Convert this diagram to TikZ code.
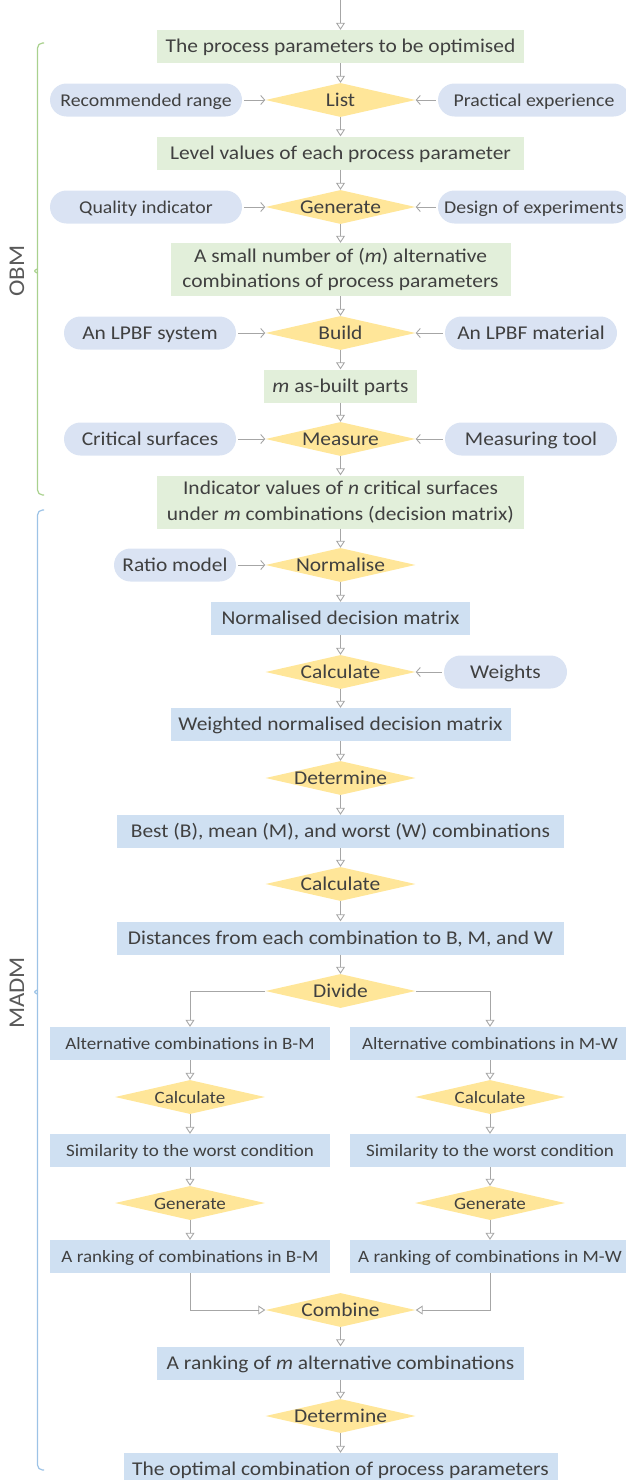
\documentclass[tikz,border=0pt]{standalone}
\usepackage{fontspec}
\setmainfont{Carlito}[FakeStretch=1.1]
\usetikzlibrary{shapes.geometric,arrows.meta}

\definecolor{txtgray}{HTML}{404040}
\definecolor{labelgray}{HTML}{595959}
\definecolor{linegray}{HTML}{A6A6A6}
\definecolor{obmfill}{HTML}{E2EFDA}
\definecolor{madmfill}{HTML}{CFE0F2}
\definecolor{infill}{HTML}{DAE3F3}
\definecolor{actfill}{HTML}{FFE699}
\definecolor{obmline}{HTML}{A9D18E}
\definecolor{madmline}{HTML}{9DC3E6}

\tikzset{
  base/.style={inner sep=0pt, text=txtgray, font=\fontsize{19.5}{25.5}\selectfont},
  greenbox/.style={base, rectangle, fill=obmfill, minimum height=33pt, align=center,
    text height=16pt, text depth=3.5pt},
  bluebox/.style={greenbox, fill=madmfill},
  twoline/.style={text height={}, text depth={}, minimum height=53pt},
  inpill/.style={base, rectangle, rounded corners=16.5pt, fill=infill, minimum height=33pt,
    text height=16pt, text depth=3.5pt},
  act/.style={base, diamond, fill=actfill, minimum width=150pt, minimum height=34pt,
    aspect=4.4, text height=12pt, text depth=0pt},
  small/.style={font=\fontsize{17.3}{21}\selectfont},
  smallin/.style={font=\fontsize{18}{22}\selectfont},
  flow/.style={draw=linegray, line width=0.9pt, -{Triangle[open, length=7pt, width=9pt]}},
  feed/.style={draw=linegray, line width=0.9pt, shorten <=2pt, -{Straight Barb[length=4pt, width=9pt]}},
  brace/.style={line width=1.2pt, rounded corners=5pt},
  side/.style={text=labelgray, rotate=90, font=\fontsize{22.5}{26}\selectfont},
}

\begin{document}
\begin{tikzpicture}[x=1pt, y=-1pt]
    \useasboundingbox (0,0) rectangle (626,1480);

    % OBM part: boxes and actions in the middle column
    \coordinate (top) at (340.5,0);
    \node[greenbox, minimum width=367pt] (b1) at (340.5,46.5) {The process parameters to be optimised};
    \node[act] (d1) at (340.5,100) {List};
    \node[greenbox, minimum width=367pt] (b2) at (340.5,153) {Level values of each process parameter};
    \node[act] (d2) at (340.5,207) {Generate};
    \node[greenbox, twoline, minimum width=340pt] (b3) at (340.5,269.5) {A small number of (\textit{m}) alternative\\combinations of process parameters};
    \node[act] (d3) at (340.5,333) {Build};
    \node[greenbox, minimum width=153pt] (b4) at (340.5,386) {\textit{m} as-built parts};
    \node[act] (d4) at (340.5,439) {Measure};
    \node[greenbox, twoline, minimum width=367pt] (b5) at (340.5,502) {Indicator values of \textit{n} critical surfaces\\under \textit{m} combinations (decision matrix)};

    % inputs from the sides
    \node[inpill, smallin, minimum width=192pt] (s1l) at (146,100) {Recommended range};
    \node[inpill, smallin, minimum width=192pt] (s1r) at (534,100) {Practical experience};
    \node[inpill, smallin, minimum width=192pt] (s2l) at (146,207) {Quality indicator};
    \node[inpill, smallin, minimum width=192pt] (s2r) at (534,207) {Design of experiments};
    \node[inpill, minimum width=172pt] (s3l) at (150,333) {An LPBF system};
    \node[inpill, minimum width=172pt] (s3r) at (531,333) {An LPBF material};
    \node[inpill, minimum width=172pt] (s4l) at (150,439) {Critical surfaces};
    \node[inpill, minimum width=172pt] (s4r) at (531,439) {Measuring tool};

    % MADM part
    \node[act] (d5) at (340.5,565) {Normalise};
    \node[inpill, minimum width=122pt] (s5l) at (175,565) {Ratio model};
    \node[bluebox, minimum width=259pt] (b6) at (340.5,618.5) {Normalised decision matrix};
    \node[act] (d6) at (340.5,672) {Calculate};
    \node[inpill, minimum width=123pt] (s6r) at (505.5,672) {Weights};
    \node[bluebox, minimum width=340pt] (b7) at (340.5,724.5) {Weighted normalised decision matrix};
    \node[act] (d7) at (340.5,778) {Determine};
    \node[bluebox, minimum width=447pt] (b8) at (340.5,831.5) {Best (B), mean (M), and worst (W) combinations};
    \node[act] (d8) at (340.5,884) {Calculate};
    \node[bluebox, minimum width=447pt] (b9) at (340.5,938) {Distances from each combination to B, M, and W};
    \node[act] (d9) at (340.5,991) {Divide};

    % the two branches after dividing
    \foreach \s/\x/\t in {l/190/B-M, r/490/M-W} {
      \node[bluebox, small, minimum width=280pt] (\s b1) at (\x,1043.5) {Alternative combinations in \t};
      \node[act, small] (\s d1) at (\x,1097) {Calculate};
      \node[bluebox, small, minimum width=280pt] (\s b2) at (\x,1150.5) {Similarity to the worst condition};
      \node[act, small] (\s d2) at (\x,1203) {Generate};
      \node[bluebox, small, minimum width=280pt] (\s b3) at (\x,1256.5) {A ranking of combinations in \t};
      \draw[flow] (\s b1) -- (\s d1);
      \draw[flow] (\s d1) -- (\s b2);
      \draw[flow] (\s b2) -- (\s d2);
      \draw[flow] (\s d2) -- (\s b3);
    }

    \node[act] (d10) at (340.5,1310) {Combine};
    \node[bluebox, minimum width=367pt] (b10) at (340.5,1363) {A ranking of \textit{m} alternative combinations};
    \node[act] (d11) at (340.5,1416) {Determine};
    \node[bluebox, minimum width=434pt] (b11) at (340.5,1469.5) {The optimal combination of process parameters};

    % Connect the middle column
    \draw[flow] (top) -- (b1);
    \foreach \i in {1,...,9} {
      \draw[flow] (b\i) -- (d\i);
    }
    \foreach \i in {1,...,8} {
      \pgfmathtruncatemacro{\j}{\i+1}
      \draw[flow] (d\i) -- (b\j);
    }
    \draw[flow] (d10) -- (b10);
    \draw[flow] (b10) -- (d11);
    \draw[flow] (d11) -- (b11);

    % side inputs into the actions
    \foreach \k in {1,2,3,4,5} {
      \draw[feed] (s\k l) -- (d\k);
    }
    \foreach \k in {1,2,3,4,6} {
      \draw[feed] (s\k r) -- (d\k);
    }

    % split and merge
    \draw[flow] (d9.west) -| (lb1);
    \draw[flow] (d9.east) -| (rb1);
    \draw[flow] (lb3) |- (d10.west);
    \draw[flow] (rb3) |- (d10.east);

    % braces with their labels
    \draw[brace, obmline] (44,43) -- (37.5,43) -- (37.5,266) .. controls (37.5,269) .. (32,271)
      .. controls (37.5,273) .. (37.5,276) -- (37.5,495) -- (44,495);
    \draw[brace, madmline] (44,510) -- (37.5,510) -- (37.5,987) .. controls (37.5,990) .. (32,992)
      .. controls (37.5,994) .. (37.5,997) -- (37.5,1470) -- (44,1470);
    \node[side] (obm) at (17,271) {OBM};
    \node[side] (madm) at (17,993) {MADM};
\end{tikzpicture}
\end{document}
